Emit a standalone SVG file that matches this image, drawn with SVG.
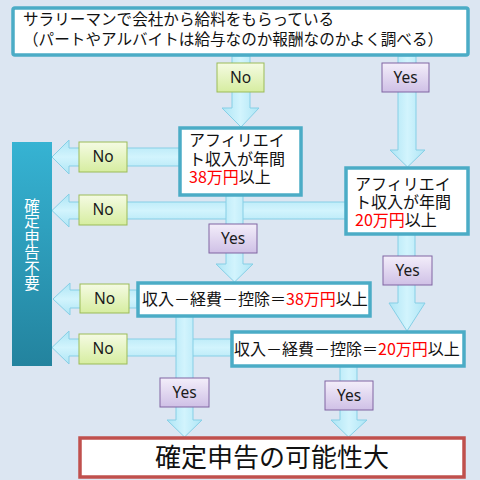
<svg xmlns="http://www.w3.org/2000/svg" width="480" height="480" viewBox="0 0 480 480">
<defs>
<linearGradient id="arrV" x1="0" y1="0" x2="1" y2="0"><stop offset="0" stop-color="#aee5f5"/><stop offset="0.5" stop-color="#d2f4fd"/><stop offset="1" stop-color="#aee5f5"/></linearGradient>
<linearGradient id="arrH" x1="0" y1="0" x2="0" y2="1"><stop offset="0" stop-color="#aee5f5"/><stop offset="0.5" stop-color="#d2f4fd"/><stop offset="1" stop-color="#aee5f5"/></linearGradient>
<linearGradient id="gNo" x1="0" y1="0" x2="0" y2="1"><stop offset="0" stop-color="#f5fbe3"/><stop offset="1" stop-color="#d6eda0"/></linearGradient>
<linearGradient id="gYes" x1="0" y1="0" x2="0" y2="1"><stop offset="0" stop-color="#f3eefa"/><stop offset="1" stop-color="#cfc0e6"/></linearGradient>
<linearGradient id="gBar" x1="0" y1="0" x2="0" y2="1"><stop offset="0" stop-color="#36b3d3"/><stop offset="1" stop-color="#23839e"/></linearGradient>
<style>
.arrV{fill:url(#arrV);stroke:#86cfe6;stroke-width:1}
.arrH{fill:url(#arrH);stroke:#86cfe6;stroke-width:1}
.box{fill:#fff;stroke:#4bacc6;stroke-width:3.5}
.jp{font-family:"Noto Sans CJK JP","Noto Sans",sans-serif;font-size:16px;fill:#111}
.vt{font-family:"Noto Sans CJK JP",sans-serif;font-size:15.5px;fill:#fff;writing-mode:vertical-rl}
.red{fill:#ff0000}
.no rect{fill:url(#gNo);stroke:#9bbb59;stroke-width:1}
.yes rect{fill:url(#gYes);stroke:#8064a2;stroke-width:1}
.lbl{font-family:"Noto Sans","Liberation Sans",sans-serif;font-size:15.5px;fill:#1a1a1a;text-anchor:middle}
</style>
</defs>
<rect width="480" height="480" fill="#dce6f2"/>
<g id="connectors">
<polygon class="arrH" points="180,148 69,148 69,140 52,157 69,174 69,166 180,166"/>
<polygon class="arrH" points="346,202 69,202 69,194 52,210.5 69,227 69,219 346,219"/>
<polygon class="arrH" points="137,290 70,290 70,283 53,299 70,315 70,308 137,308"/>
<polygon class="arrH" points="231,339 69,339 69,331 52,347.5 69,364 69,356 231,356"/>
<polygon class="arrV" points="232,56 232,108 222,108 241,127 259,108 250,108 250,56"/>
<polygon class="arrV" points="398,56 398,150 390,150 407.5,167 425,150 416,150 416,56"/>
<polygon class="arrV" points="226,195 226,264 216,264 234.5,282 253,264 243,264 243,195"/>
<polygon class="arrV" points="398,234 398,303 389,303 407,331 425,303 415,303 415,234"/>
<polygon class="arrV" points="176,316 176,420 167,420 184.5,437 202,420 193,420 193,316"/>
<polygon class="arrV" points="340,366 340,420 331,420 348.5,437 367,420 357,420 357,366"/>
</g>
<g id="n_top">
<rect class="box" x="13" y="8" width="455" height="47" rx="2"/>
<text class="jp" style="font-size:15.6px"><tspan x="23" y="25">サラリーマンで会社から給料をもらっている</tspan><tspan x="23" y="45">（パートやアルバイトは給与なのか報酬なのかよく調べる）</tspan></text>
</g>
<g id="n_fudou">
<rect x="12" y="142" width="40" height="224" fill="url(#gBar)"/>
<text class="vt" x="32" y="198">確定申告不要</text>
</g>
<g id="n_a38">
<rect class="box" x="180" y="128" width="121" height="67"/>
<text class="jp"><tspan x="189" y="146">アフィリエイ</tspan><tspan x="189" y="164.5">ト収入が年間</tspan><tspan x="189" y="183" class="red">38万円</tspan><tspan>以上</tspan></text>
</g>
<g id="n_a20">
<rect class="box" x="346" y="168" width="122" height="66"/>
<text class="jp"><tspan x="355" y="190">アフィリエイ</tspan><tspan x="355" y="208">ト収入が年間</tspan><tspan x="355" y="226" class="red">20万円</tspan><tspan>以上</tspan></text>
</g>
<g id="n_k38">
<rect class="box" x="138" y="283" width="232" height="33"/>
<text class="jp" x="142" y="305">収入－経費－控除＝<tspan class="red">38万円</tspan>以上</text>
</g>
<g id="n_k20">
<rect class="box" x="232" y="332" width="232" height="34"/>
<text class="jp" x="234" y="355">収入－経費－控除＝<tspan class="red">20万円</tspan>以上</text>
</g>
<g id="n_result">
<rect x="80" y="438" width="384" height="39" fill="#fff" stroke="#c0504d" stroke-width="3.5"/>
<text class="jp" x="272" y="467" text-anchor="middle" style="font-size:26px">確定申告の可能性大</text>
</g>
<g id="labels">
<g class="no"><rect x="217" y="63" width="47" height="29"/><text class="lbl" x="240.5" y="83">No</text></g>
<g class="yes"><rect x="382" y="63" width="47" height="29"/><text class="lbl" x="405.5" y="83">Yes</text></g>
<g class="no"><rect x="79" y="142" width="48" height="30"/><text class="lbl" x="103" y="162">No</text></g>
<g class="no"><rect x="79" y="195" width="48" height="30"/><text class="lbl" x="103" y="215">No</text></g>
<g class="yes"><rect x="209" y="224" width="48" height="29"/><text class="lbl" x="233" y="244">Yes</text></g>
<g class="yes"><rect x="383" y="256" width="49" height="29"/><text class="lbl" x="407.5" y="276">Yes</text></g>
<g class="no"><rect x="80" y="284" width="49" height="29"/><text class="lbl" x="104.5" y="304">No</text></g>
<g class="no"><rect x="79" y="334" width="48" height="30"/><text class="lbl" x="103" y="354">No</text></g>
<g class="yes"><rect x="160" y="378" width="49" height="29"/><text class="lbl" x="184.5" y="398">Yes</text></g>
<g class="yes"><rect x="325" y="381" width="48" height="29"/><text class="lbl" x="349" y="401">Yes</text></g>
</g>
</svg>
